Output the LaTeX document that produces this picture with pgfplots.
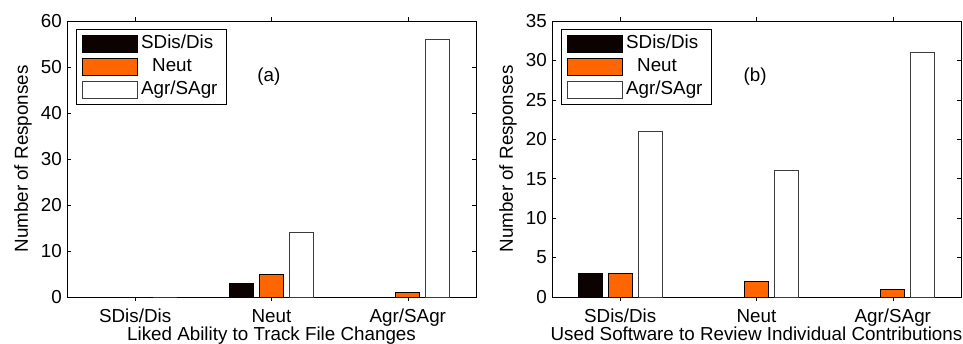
\documentclass[border=0pt]{standalone}
\usepackage{fontspec}
\setmainfont{Liberation Sans}
\usepackage{pgfplots}
\pgfplotsset{compat=1.18}

\definecolor{barblack}{RGB}{12,2,2}
\definecolor{barorange}{RGB}{255,102,0}
\definecolor{baredge}{RGB}{60,60,60}

\newcommand{\chartfont}{\fontsize{18.8}{22}\selectfont}

\pgfplotsset{
  responses/.style={
    width=409pt, height=276pt, scale only axis,
    xmin=-0.5, xmax=2.5, ymin=0,
    xtick={0,1,2}, xticklabels={SDis/Dis,Neut,Agr/SAgr},
    tick align=inside, major tick length=4pt,
    axis line style={line width=0.8pt},
    every tick/.style={black, line width=0.6pt},
    ybar=6pt, bar width=24pt,
    font=\chartfont,
    tick label style={font=\chartfont},
    /pgf/number format/assume math mode=true,
    xticklabel style={inner sep=0pt, yshift=-8pt},
    yticklabel style={inner sep=0pt, xshift=-5pt},
    ylabel={Number of Responses},
    every axis y label/.style={at={(axis description cs:-0.1076,0.5)}, rotate=90, anchor=center, font=\chartfont},
    every axis x label/.style={at={(axis description cs:0.5,0)}, anchor=north, inner sep=0pt, yshift=-30pt, font=\chartfont},
    legend image code/.code={\draw[#1, line width=0.8pt] (0pt,-8.5pt) rectangle (55pt,8.5pt);},
    legend cell align=left,
    legend style={
      at={(rel axis cs:0,1)}, anchor=north west, xshift=9pt, yshift=-8pt,
      draw=black, line width=0.8pt, fill=white,
      inner xsep=6pt, inner ysep=3pt, row sep=0pt,
      font=\chartfont,
      nodes={inner ysep=2.5pt, inner xsep=3pt, text height=14pt, text depth=4pt},
    },
  },
  blackbar/.style={fill=barblack, draw=black, line width=0.8pt},
  orangebar/.style={fill=barorange, draw=black, line width=0.8pt},
  whitebar/.style={fill=white, draw=baredge, line width=0.8pt},
}

\begin{document}
\begin{tikzpicture}
\useasboundingbox (-67pt,-46pt) rectangle (896pt,297pt);

% (a) file change tracking
\begin{axis}[responses, at={(0pt,0pt)}, anchor=south west,
  ymax=60, ytick={0,10,20,30,40,50,60},
  xlabel={Liked Ability to Track File Changes}]
  \addplot[blackbar]  coordinates {(0,0) (1,3) (2,0)};
  \addplot[orangebar] coordinates {(0,0) (1,5) (2,1)};
  \addplot[whitebar]  coordinates {(0,0) (1,14) (2,56)};
  \legend{SDis/Dis,\hspace{11pt}Neut,Agr/SAgr}
  \node[font=\chartfont] at (axis cs:0.98,47.8) {(a)};
\end{axis}

% (b) reviewing individual contributions
\begin{axis}[responses, at={(485pt,0pt)}, anchor=south west,
  ymax=35, ytick={0,5,10,15,20,25,30,35},
  xlabel={Used Software to Review Individual Contributions}]
  \addplot[blackbar]  coordinates {(0,3) (1,0) (2,0)};
  \addplot[orangebar] coordinates {(0,3) (1,2) (2,1)};
  \addplot[whitebar]  coordinates {(0,21) (1,16) (2,31)};
  \legend{SDis/Dis,\hspace{11pt}Neut,Agr/SAgr}
  \node[font=\chartfont] at (axis cs:0.99,27.9) {(b)};
\end{axis}
\end{tikzpicture}
\end{document}
